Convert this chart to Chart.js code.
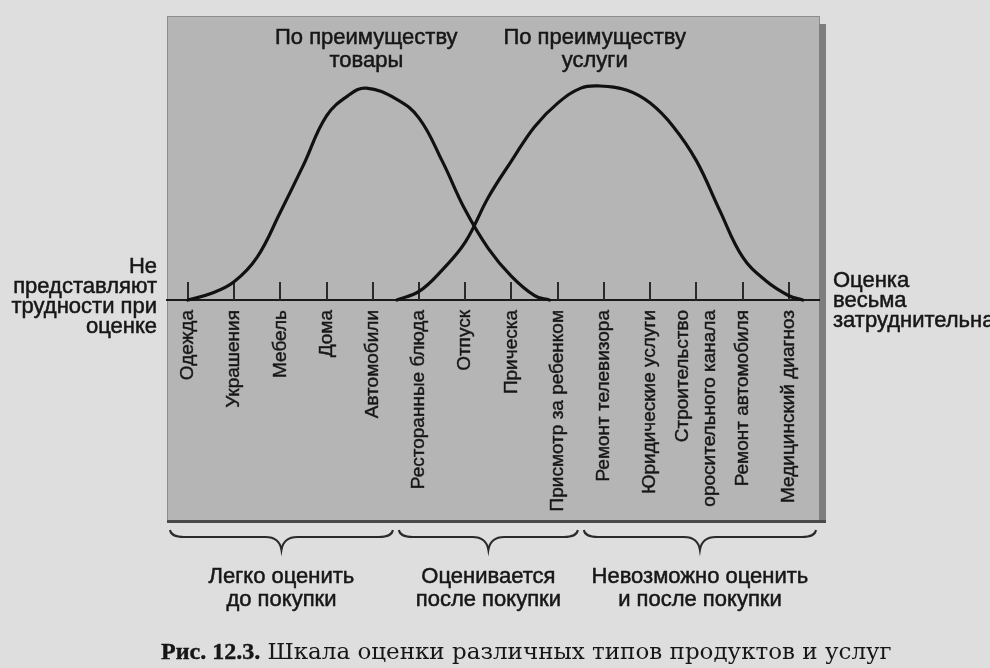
<!DOCTYPE html>
<html lang="ru">
<head>
<meta charset="utf-8">
<title>Шкала оценки различных типов продуктов и услуг</title>
<script src="https://cdn.jsdelivr.net/npm/chart.js@4.4.1/dist/chart.umd.min.js"></script>
<style>
  html, body { margin: 0; padding: 0; background: #dedede; }
  #wrap { position: relative; width: 990px; height: 668px; }
</style>
</head>
<body>
<div id="wrap"><canvas id="scale"></canvas></div>
<script>
// Products and services along the scale, easy -> hard to evaluate
let categories = ['Одежда', 'Украшения', 'Мебель', 'Дома', 'Автомобили', 'Ресторанные блюда', 'Отпуск', 'Прическа',
	'Присмотр за ребенком', 'Ремонт телевизора', 'Юридические услуги', ['Строительство', 'оросительного канала'],
	'Ремонт автомобиля', 'Медицинский диагноз']

// Curves (x = position on the scale, y = relative height)
let goodsX = [0, 0.5, 1, 1.5, 2, 2.5, 3, 3.5, 3.86, 4.5, 5, 5.5, 6, 6.5, 7, 7.5, 7.82]
let goodsY = [0, 0.03, 0.085, 0.2, 0.41, 0.63, 0.86, 0.96, 0.99, 0.94, 0.85, 0.65, 0.42, 0.24, 0.11, 0.02, 0]
let servicesX = [4.52, 5, 5.5, 6, 6.5, 7, 7.5, 8, 8.5, 8.9, 9.5, 10, 10.5, 11, 11.5, 12, 12.5, 13, 13.3]
let servicesY = [0, 0.04, 0.14, 0.27, 0.48, 0.65, 0.81, 0.92, 0.99, 1, 0.98, 0.92, 0.81, 0.65, 0.42, 0.2, 0.09, 0.02, 0]

// Texts
let titles = [['По преимуществу', 'товары'], ['По преимуществу', 'услуги']]
let titleAt = [3.86, 8.8]
let easyLabel = ['Не', 'представляют', 'трудности при', 'оценке']
let hardLabel = ['Оценка', 'весьма', 'затруднительна']
let groupLabels = [['Легко оценить', 'до покупки'], ['Оценивается', 'после покупки'], ['Невозможно оценить', 'и после покупки']]
let groupFrom = [-0.45, 4.5, 8.5]
let groupTo = [4.5, 8.5, 13.65]
let captionBold = 'Рис. 12.3.'
let captionText = ' Шкала оценки различных типов продуктов и услуг'

let sans = "'Liberation Sans', Arial, sans-serif"
let ink = '#161616'

let toPoints = (xs, ys) => xs.map((x, i) => ({x: x, y: ys[i]}))

// text a bit heavier, like the printed scan
function heavyText(ctx, text, x, y) {
	ctx.strokeText(text, x, y)
	ctx.fillText(text, x, y)
}

// brace under a group of categories
function brace(ctx, x1, x2, y) {
	let mid = (x1 + x2) / 2
	ctx.beginPath()
	ctx.moveTo(x1, y - 6)
	ctx.quadraticCurveTo(x1 + 1, y + 1, x1 + 14, y + 1)
	ctx.lineTo(mid - 16, y + 1)
	ctx.quadraticCurveTo(mid - 2, y + 1, mid, y + 14)
	ctx.quadraticCurveTo(mid + 2, y + 1, mid + 16, y + 1)
	ctx.lineTo(x2 - 14, y + 1)
	ctx.quadraticCurveTo(x2 - 1, y + 1, x2, y - 6)
	ctx.stroke()
}

let figurePlugin = {
	id: 'figure',
	beforeDraw(chart) {
		let ctx = chart.ctx, a = chart.chartArea
		let panelBottom = 521
		ctx.save()
		ctx.fillStyle = '#b5b5b5'
		ctx.fillRect(a.left, a.top, a.right - a.left, panelBottom - a.top)
		ctx.strokeStyle = '#8c8c8c'
		ctx.lineWidth = 1
		ctx.strokeRect(a.left + 0.5, a.top + 0.5, a.right - a.left, panelBottom - a.top)
		// shadow on the right and bottom edge
		ctx.fillStyle = '#7e7e7e'
		ctx.fillRect(a.right, a.top + 8, 7, panelBottom - a.top - 6)
		ctx.fillStyle = '#4a4a4a'
		ctx.fillRect(a.left, panelBottom - 1, a.right - a.left + 7, 3)
		ctx.restore()
	},
	beforeDatasetsDraw(chart) {
		let ctx = chart.ctx, a = chart.chartArea, x = chart.scales.x
		ctx.save()
		ctx.strokeStyle = '#2a2a2a'
		ctx.lineWidth = 2
		categories.forEach((c, i) => {
			let px = Math.round(x.getPixelForValue(i))
			ctx.beginPath()
			ctx.moveTo(px, a.bottom)
			ctx.lineTo(px, a.bottom - 18)
			ctx.stroke()
		})
		ctx.restore()
	},
	afterDraw(chart) {
		let ctx = chart.ctx, a = chart.chartArea, x = chart.scales.x
		ctx.save()
		ctx.fillStyle = ink
		ctx.strokeStyle = ink
		ctx.lineWidth = 0.5
		ctx.textBaseline = 'middle'
		ctx.font = '22px ' + sans

		// titles above the peaks
		ctx.textAlign = 'center'
		titles.forEach((t, k) => {
			let px = x.getPixelForValue(titleAt[k])
			t.forEach((line, j) => heavyText(ctx, line, px, 38 + j * 23))
		})

		// ends of the scale
		ctx.textAlign = 'right'
		easyLabel.forEach((line, j) => heavyText(ctx, line, a.left - 10, 267 + j * 20))
		ctx.textAlign = 'left'
		hardLabel.forEach((line, j) => heavyText(ctx, line, a.right + 14, 281 + j * 20))

		// group captions
		ctx.textAlign = 'center'
		let mids = []
		groupLabels.forEach((g, k) => {
			let x1 = Math.max(x.getPixelForValue(groupFrom[k]), a.left) + 3
			let x2 = Math.min(x.getPixelForValue(groupTo[k]), a.right) - 3
			mids.push([x1, x2])
			g.forEach((line, j) => heavyText(ctx, line, (x1 + x2) / 2, 577 + j * 23))
		})
		// braces
		ctx.strokeStyle = '#2a2a2a'
		ctx.lineWidth = 2
		mids.forEach(m => brace(ctx, m[0], m[1], 536))

		// figure caption
		ctx.strokeStyle = ink
		ctx.lineWidth = 0.4
		ctx.textAlign = 'left'
		ctx.font = "bold 24px 'Liberation Serif', serif"
		heavyText(ctx, captionBold, 161, 653)
		let w = ctx.measureText(captionBold).width
		ctx.font = "23px 'DejaVu Serif', serif"
		ctx.fillText(captionText, 161 + w, 653)
		ctx.restore()
	}
}

let data = {
	datasets: [
		{
			label: 'По преимуществу товары',
			data: toPoints(goodsX, goodsY),
		},
		{
			label: 'По преимуществу услуги',
			data: toPoints(servicesX, servicesY),
		}
	]
}
data.datasets.forEach(ds => {
	ds.borderColor = '#111'
	ds.borderWidth = 3.2
	ds.borderCapStyle = 'round'
	ds.pointRadius = 0
	ds.tension = 0.4
	ds.clip = false
})

let chart = new Chart(document.getElementById('scale'), {
	type: 'line',
	data,
	options: {
		responsive: true,
		maintainAspectRatio: false,
		animation: false,
		events: [],
		layout: {padding: {left: 167, right: 171, top: 16, bottom: 0}},
		plugins: {legend: {display: false}, tooltip: {enabled: false}},
		scales: {
			x: {
				type: 'linear',
				min: -0.45,
				max: 13.65,
				// two-line label is centred on its tick, so shift its anchor half a line left
				afterBuildTicks: s => { s.ticks = categories.map((c, i) => ({value: Array.isArray(c) ? i - 0.29 : i})) },
				afterFit: s => { s.height = 368 },
				grid: {display: false, drawTicks: false},
				border: {display: true, color: '#1a1a1a', width: 2},
				ticks: {
					autoSkip: false,
					minRotation: 90,
					maxRotation: 90,
					padding: 10,
					color: ink,
					textStrokeColor: ink,
					textStrokeWidth: 0.4,
					font: {family: sans, size: 19, lineHeight: 1.4},
					callback: (v, i) => categories[i]
				}
			},
			y: {display: false, min: 0, max: 1.327}
		}
	},
	plugins: [figurePlugin]
})
</script>
</body>
</html>
